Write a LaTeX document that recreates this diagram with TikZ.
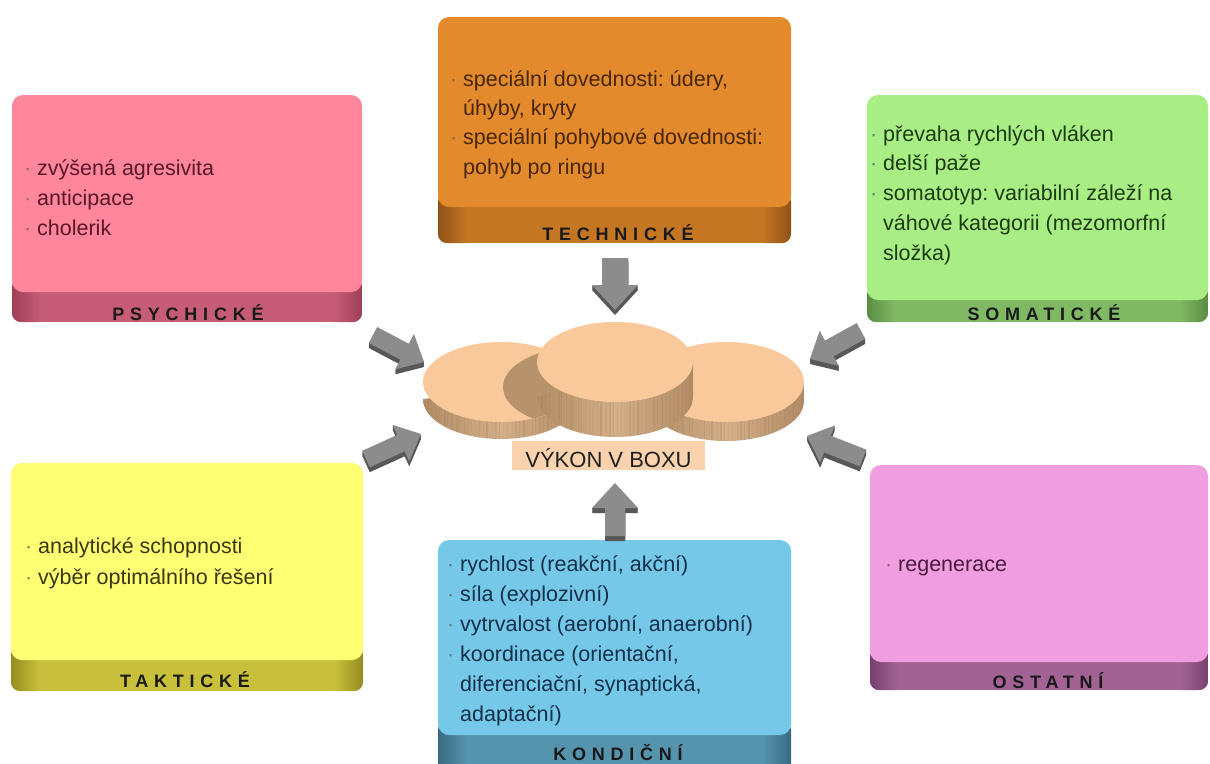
\documentclass[tikz,border=0pt]{standalone}
\usepackage{fontspec}
\setmainfont{Liberation Sans}
\newfontfamily\lblfont[LetterSpace=32]{Liberation Sans}
\usetikzlibrary{calc}
\frenchspacing

% card colours: face, band, band ends, text
\definecolor{psyface}{HTML}{FF869B}\definecolor{psyband}{HTML}{C65C76}\definecolor{psyend}{HTML}{9E3F58}\definecolor{psytext}{HTML}{5A1628}
\definecolor{tecface}{HTML}{E28A2C}\definecolor{tecband}{HTML}{C47623}\definecolor{tecend}{HTML}{8E5218}\definecolor{tectext}{HTML}{48260A}
\definecolor{somface}{HTML}{A8EE85}\definecolor{somband}{HTML}{80B963}\definecolor{somend}{HTML}{5A8C44}\definecolor{somtext}{HTML}{1E3A12}
\definecolor{takface}{HTML}{FFFF74}\definecolor{takband}{HTML}{C8C03A}\definecolor{takend}{HTML}{938C20}\definecolor{taktext}{HTML}{393710}
\definecolor{konface}{HTML}{76C8E8}\definecolor{konband}{HTML}{5693AD}\definecolor{konend}{HTML}{386B82}\definecolor{kontext}{HTML}{13304A}
\definecolor{ostface}{HTML}{F09EE0}\definecolor{ostband}{HTML}{A26394}\definecolor{ostend}{HTML}{78416D}\definecolor{osttext}{HTML}{4A1942}
\definecolor{arrgray}{HTML}{8C8C8C}\definecolor{arrdark}{HTML}{585858}
\definecolor{coinface}{HTML}{F9C99B}\definecolor{coinside}{HTML}{D4B08A}\definecolor{coinedge}{HTML}{B08B65}
\definecolor{coinshadow}{HTML}{B7936D}\definecolor{capfill}{HTML}{FAD3AE}

\tikzset{
  itemtext/.style={anchor=base west, inner sep=0pt, font=\fontsize{21.5}{30}\selectfont},
  cardlabel/.style={anchor=base, inner sep=0pt, text=black!90,
    font=\lblfont\bfseries\fontsize{18}{18}\selectfont},
}

% bullet hanging to the left of an item
\newcommand\bul{\llap{\textcolor{.!65!white}{·}\hspace{6pt}}}

% a card: x1,y1,x2,y2,band top,face,band,band ends
\newcommand\card[8]{%
  \begin{scope}
    \clip[rounded corners=9pt] (#1,#5-14) rectangle (#3,#4);
    \fill[#7] (#1,#5-14) rectangle (#3,#4);
    \shade[left color=#8, right color=#7] (#1,#5-14) rectangle (#1+28,#4);
    \shade[left color=#7, right color=#8] (#3-28,#5-14) rectangle (#3,#4);
  \end{scope}
  \fill[#6, rounded corners=11pt] (#1,#2) rectangle (#3,#5);
}

% outline of a block arrow from tail #1 to tip #2
\newcommand\arrowshape[4]{($(#1)!#3!90:(#2)$) -- ($(#1h)!#3!90:(#2)$) -- ($(#1h)!#4!90:(#2)$) -- (#2)
  -- ($(#1h)!#4!-90:(#2)$) -- ($(#1h)!#3!-90:(#2)$) -- ($(#1)!#3!-90:(#2)$) -- cycle}
% extruded block arrow: tail, tip, stem half width, head half width, head length
\newcommand\blockarrow[5]{%
  \coordinate (#1h) at ($(#2)!#5!(#1)$);
  \foreach \d in {1,...,5}{\fill[arrdark, transform canvas={yshift=-\d pt}] \arrowshape{#1}{#2}{#3}{#4};}
  \fill[arrgray] \arrowshape{#1}{#2}{#3}{#4};
}

% a coin: centre x, centre y, thickness
\newcommand\coin[3]{%
  \shade[left color=coinedge, right color=coinedge, middle color=coinside]
    (#1+78,#2) -- (#1+78,#2+#3) arc[start angle=0, end angle=180, x radius=78, y radius=40] -- cycle;
  \begin{scope}
    \clip (#1+78,#2) -- (#1+78,#2+#3) arc[start angle=0, end angle=180, x radius=78, y radius=40] -- cycle;
    \pgfmathsetseed{11}
    \foreach \k in {0,...,38}{
      \pgfmathsetmacro\op{0.05+0.22*rnd}
      \draw[line width=1.5pt, draw=coinedge!85!black, opacity=\op] (#1-78+4*\k+2*rnd,#2) -- ++(0,#3+45);
    }
  \end{scope}
  \fill[coinface] (#1,#2) ellipse[x radius=78, y radius=40];
}

\begin{document}
\begin{tikzpicture}[x=1pt,y=-1pt]
\useasboundingbox (0,0) rectangle (1210,763);
\fill[white] (0,0) rectangle (1210,763);

% cards
\card{12}{95}{362}{322}{292}{psyface}{psyband}{psyend}
\card{438}{17}{791}{243}{207}{tecface}{tecband}{tecend}
\card{867}{95}{1208}{322}{300}{somface}{somband}{somend}
\card{11}{463}{363}{691}{660}{takface}{takband}{takend}
\card{438}{540}{791}{790}{735}{konface}{konband}{konend}
\card{870}{465}{1208}{690}{662}{ostface}{ostband}{ostend}

% card labels
\node[cardlabel] (psyL) at (188,320) {PSYCHICKÉ};
\node[cardlabel] (tecL) at (618,240) {TECHNICKÉ};
\node[cardlabel] (somL) at (1044,320) {SOMATICKÉ};
\node[cardlabel] (takL) at (185,687) {TAKTICKÉ};
\node[cardlabel] (konL) at (618,760) {KONDIČNÍ};
\node[cardlabel] (ostL) at (1048,688) {OSTATNÍ};

% card items
\node[itemtext, text=psytext] (psyT) at (37,175) {\begin{tabular}[t]{@{}l@{}}
  \bul zvýšená agresivita\\ \bul anticipace\\ \bul cholerik\end{tabular}};
\node[itemtext, text=tectext, font=\fontsize{21.5}{29.4}\selectfont] (tecT) at (463,86) {\begin{tabular}[t]{@{}l@{}}
  \bul speciální dovednosti: údery,\\ úhyby, kryty\\ \bul speciální pohybové dovednosti:\\ pohyb po ringu\end{tabular}};
\node[itemtext, text=somtext, font=\fontsize{21.5}{29.8}\selectfont] (somT) at (883,141) {\begin{tabular}[t]{@{}l@{}}
  \bul převaha rychlých vláken\\ \bul delší paže\\ \bul somatotyp: variabilní záleží na\\
  váhové kategorii (mezomorfní\\ složka)\end{tabular}};
\node[itemtext, text=taktext, font=\fontsize{21.5}{31}\selectfont] (takT) at (38,553) {\begin{tabular}[t]{@{}l@{}}
  \bul analytické schopnosti\\ \bul výběr optimálního řešení\end{tabular}};
\node[itemtext, text=kontext] (konT) at (460,571) {\begin{tabular}[t]{@{}l@{}}
  \bul rychlost (reakční, akční)\\ \bul síla (explozivní)\\ \bul vytrvalost (aerobní, anaerobní)\\
  \bul koordinace (orientační,\\ diferenciační, synaptická,\\ adaptační)\end{tabular}};
\node[itemtext, text=osttext] (ostT) at (898,571) {\bul regenerace};

% coins
\coin{501}{382}{17}
\coin{726}{382}{19}
\begin{scope}
  \clip (501,382) ellipse[x radius=78, y radius=40];
  \fill[coinshadow] (581,387) ellipse[x radius=78, y radius=40];
\end{scope}
\coin{615}{362}{35}

% caption under the coins
\node[fill=capfill, minimum width=193pt, inner xsep=0pt, inner ysep=3pt, text height=23pt, text depth=0pt,
  font=\fontsize{22}{22}\selectfont, text=black!88] (cap) at (608.5,455.5) {VÝKON V BOXU};

% arrows towards the coins
\coordinate (aT) at (615,258);  \coordinate (aTp) at (615,310);
\coordinate (aB) at (615,536);  \coordinate (aBp) at (615,483);
\coordinate (aUL) at (373,335); \coordinate (aULp) at (424,362);
\coordinate (aLL) at (366,459); \coordinate (aLLp) at (421,434);
\coordinate (aUR) at (861,331); \coordinate (aURp) at (810,359);
\coordinate (aLR) at (863,458); \coordinate (aLRp) at (807,436);
\blockarrow{aT}{aTp}{13pt}{23pt}{25pt}
\blockarrow{aB}{aBp}{10pt}{23pt}{25pt}
\blockarrow{aUL}{aULp}{9pt}{20pt}{22pt}
\blockarrow{aLL}{aLLp}{9pt}{20pt}{22pt}
\blockarrow{aUR}{aURp}{9pt}{20pt}{22pt}
\blockarrow{aLR}{aLRp}{9pt}{20pt}{22pt}
\end{tikzpicture}
\end{document}
